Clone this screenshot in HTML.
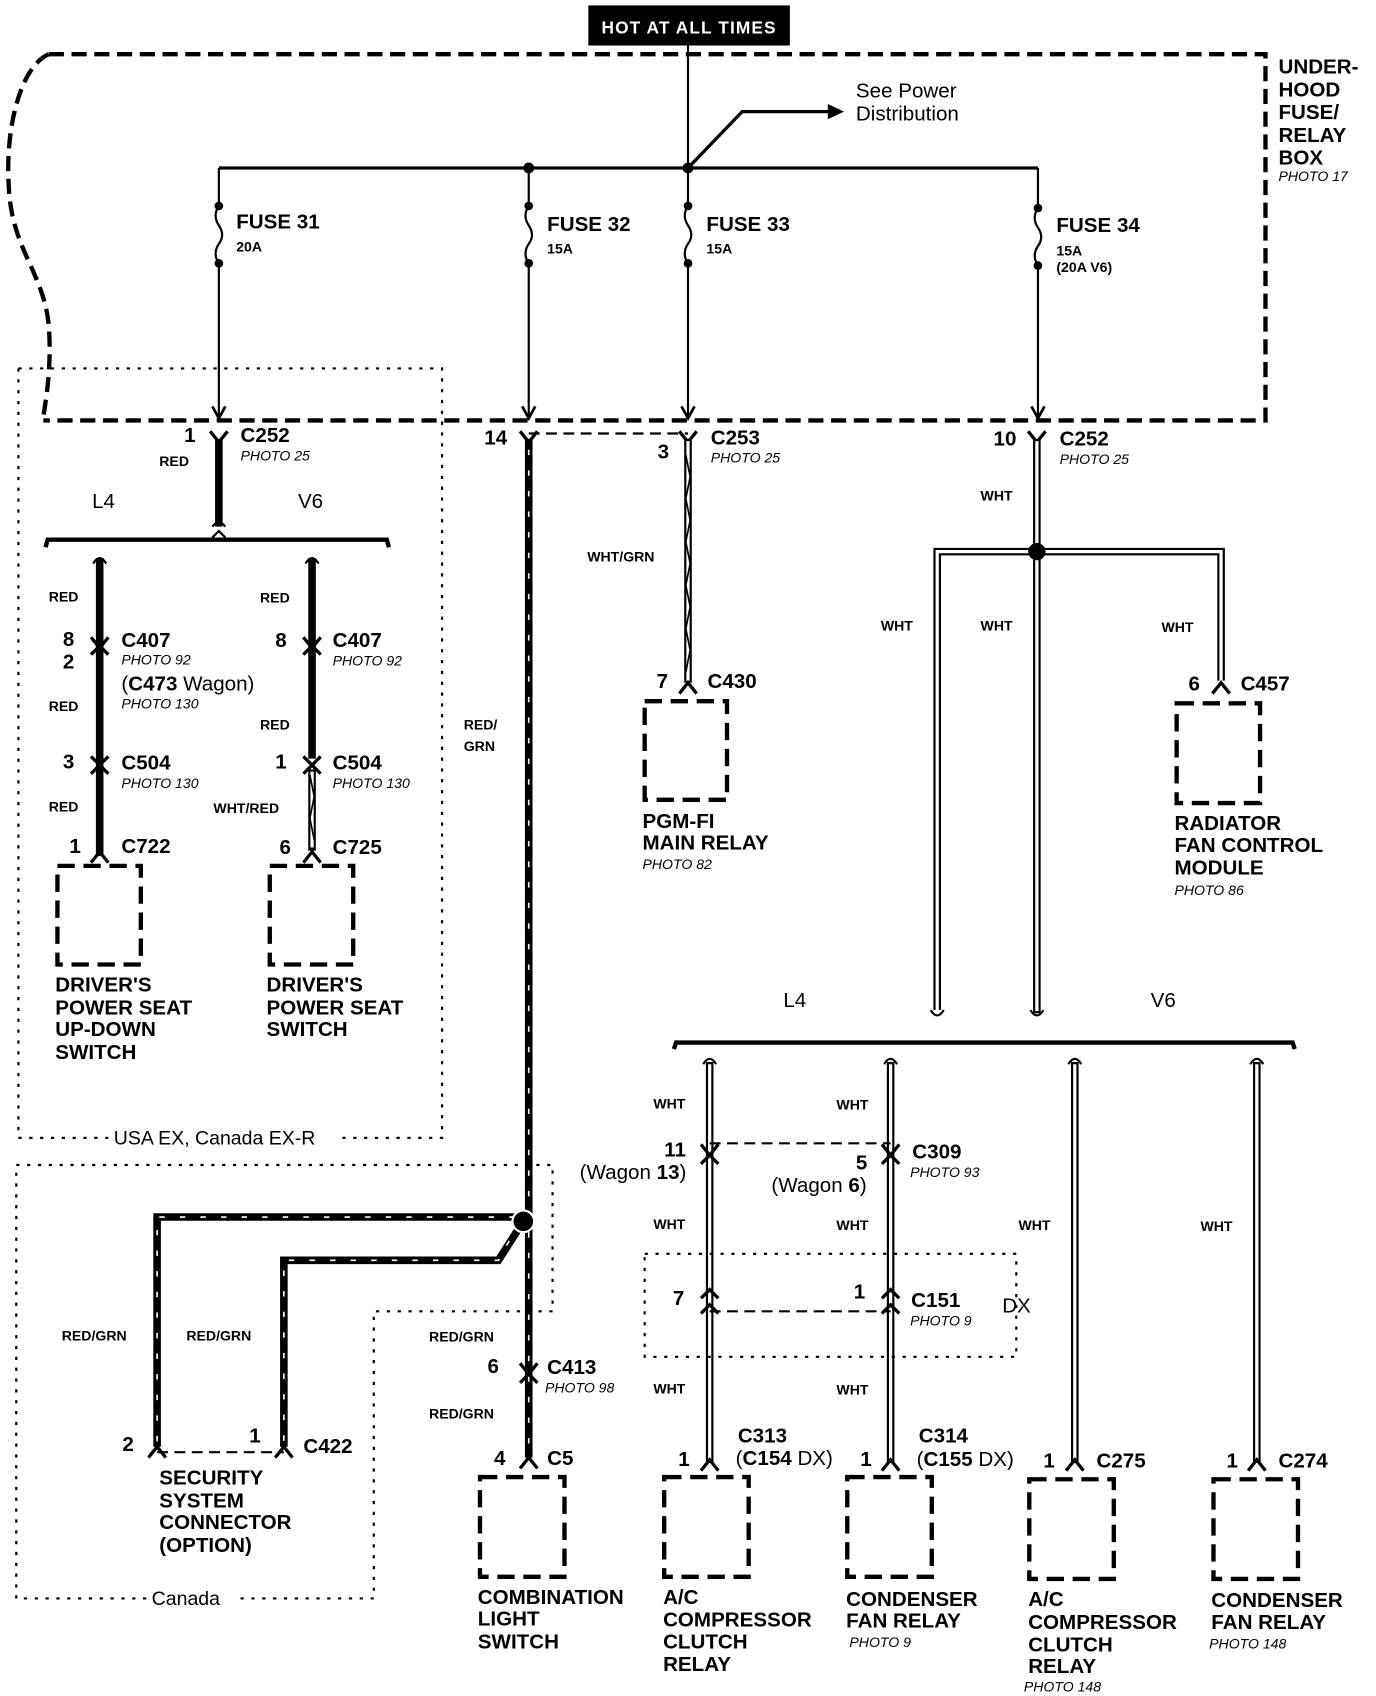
<!DOCTYPE html>
<html><head><meta charset="utf-8"><style>
html,body{margin:0;padding:0;background:#fff;}
svg{display:block}
text{font-family:"Liberation Sans",sans-serif;fill:#000}
.b{font-weight:bold;font-size:19px}
.s{font-weight:bold;font-size:13px}
.p{font-style:italic;font-size:13px}
.r{font-size:19px}
.w{stroke:#000;stroke-width:2;fill:none}
.tk{stroke:#000;stroke-width:7;fill:none}
.hw{stroke:#fff;stroke-width:1.5;stroke-dasharray:5 14;fill:none}
.dw{stroke:#000;stroke-width:7;fill:none}
.dwi{stroke:#fff;stroke-width:3;fill:none}
.fb{stroke:#000;stroke-width:4;stroke-dasharray:14 7;fill:none}
.dot{stroke:#000;stroke-width:2;stroke-dasharray:3 7;fill:none}
.bx{stroke:#000;stroke-width:4;stroke-dasharray:16 8;fill:none}
.dl{stroke:#000;stroke-width:2;stroke-dasharray:10 6;fill:none}
</style></head><body>
<svg width="1376" height="1696" viewBox="0 0 1270 1565" preserveAspectRatio="none" xmlns="http://www.w3.org/2000/svg">
<rect x="0" y="0" width="1270" height="1565" fill="#fff"/>
<!-- header -->
<rect x="543" y="5" width="186" height="37" fill="#000"/>
<text x="636" y="31" text-anchor="middle" style="fill:#fff;font-size:16px;font-weight:bold;letter-spacing:1px">HOT AT ALL TIMES</text>
<!-- fuse box -->
<path class="fb" d="M45,50 L1168,50 L1168,388 L40,388"/>
<path class="fb" d="M45,50 C18,62 5,120 8,170 C10,230 40,250 45,300 C48,340 42,370 40,385"/>
<g class="b"><text x="1180" y="68">UNDER-</text><text x="1180" y="89">HOOD</text><text x="1180" y="110">FUSE/</text><text x="1180" y="131">RELAY</text><text x="1180" y="152">BOX</text></g>
<text class="p" x="1180" y="167">PHOTO 17</text>
<line class="w" x1="635" y1="42" x2="635" y2="155"/>
<path class="w" d="M635,155 L685,103 L765,103" style="stroke-width:3"/>
<path d="M764,96 L779,103 L764,110Z"/>
<text class="r" x="790" y="90">See Power</text><text class="r" x="790" y="111">Distribution</text>
<line x1="202" y1="155" x2="958" y2="155" style="stroke:#000;stroke-width:3"/>
<circle cx="488" cy="155" r="5"/><circle cx="635" cy="155" r="5"/>
<!-- fuses -->
<g>
<line class="w" x1="202" y1="155" x2="202" y2="385"/>
<line class="w" x1="488" y1="155" x2="488" y2="385"/>
<line class="w" x1="635" y1="155" x2="635" y2="385"/>
<line class="w" x1="958" y1="155" x2="958" y2="385"/>
</g>
<g fill="#fff" stroke="none">
<rect x="196" y="192" width="12" height="50"/><rect x="482" y="192" width="12" height="50"/><rect x="629" y="192" width="12" height="50"/><rect x="952" y="194" width="12" height="50"/>
</g>
<g class="w">
<path d="M202,190 q-6,9 0,18 q6,9 0,17 q-6,9 0,18"/>
<path d="M488,190 q-6,9 0,18 q6,9 0,17 q-6,9 0,18"/>
<path d="M635,190 q-6,9 0,18 q6,9 0,17 q-6,9 0,18"/>
<path d="M958,192 q-6,9 0,18 q6,9 0,17 q-6,9 0,18"/>
</g>
<g><circle cx="202" cy="190" r="4"/><circle cx="202" cy="243" r="4"/><circle cx="488" cy="190" r="4"/><circle cx="488" cy="243" r="4"/><circle cx="635" cy="190" r="4"/><circle cx="635" cy="243" r="4"/><circle cx="958" cy="192" r="4"/><circle cx="958" cy="245" r="4"/></g>
<text class="b" x="218" y="211">FUSE 31</text><text class="s" x="218" y="232">20A</text>
<text class="b" x="505" y="213">FUSE 32</text><text class="s" x="505" y="234">15A</text>
<text class="b" x="652" y="213">FUSE 33</text><text class="s" x="652" y="234">15A</text>
<text class="b" x="975" y="214">FUSE 34</text><text class="s" x="975" y="236">15A</text><text class="s" x="975" y="251">(20A V6)</text>
<g class="w" style="stroke-width:2.5">
<path d="M196,375 L202,386 L208,375"/><path d="M482,375 L488,386 L494,375"/><path d="M629,375 L635,386 L641,375"/><path d="M952,375 L958,386 L964,375"/>
</g>
<!-- left dotted box -->
<path class="dot" d="M17,340 L408,340 L408,1050 L310,1050 M100,1050 L17,1050 L17,340"/>
<text class="r" x="105" y="1056" style="font-size:18px">USA EX, Canada EX-R</text>
<!-- connector marks helper: drawn as paths -->
<g class="w" style="stroke-width:3">
<path d="M194,398 L202,408 L210,398"/><path d="M480,398 L488,408 L496,398"/><path d="M627,398 L635,408 L643,398"/><path d="M949,398 L957,408 L965,398"/>
</g>
<line class="dl" x1="488" y1="400" x2="635" y2="400"/>
<!-- fuse31 wire -->
<line class="tk" x1="202" y1="405" x2="202" y2="486"/>
<text class="s" x="147" y="430">RED</text>
<text class="b" x="170" y="408">1</text><text class="b" x="222" y="408">C252</text><text class="p" x="222" y="425">PHOTO 25</text>
<text class="r" x="85" y="469">L4</text><text class="r" x="275" y="469">V6</text>
<path d="M42,505 L44,498 L357,498 L359,505" style="stroke:#000;stroke-width:4;fill:none"/>
<path class="w" d="M196,486 q6,-8 12,0 M196,496 L202,490 L208,496"/>
<line class="tk" x1="92" y1="515" x2="92" y2="790"/>
<line class="tk" x1="288" y1="515" x2="288" y2="700"/>
<path class="w" d="M86,520 q6,-10 12,0 M282,520 q6,-10 12,0"/>
<line class="dw" x1="288" y1="710" x2="288" y2="785"/><line class="dwi" x1="288" y1="712" x2="288" y2="782"/>
<path class="w" d="M286,715 L290,735 L286,755 L290,775" style="stroke-width:1.5"/>
<g class="w" style="stroke-width:3">
<path d="M84,588 L92,598 L100,588 M84,604 L92,596 L100,604"/>
<path d="M280,588 L288,598 L296,588 M280,604 L288,596 L296,604"/>
<path d="M84,698 L92,706 L100,698 M84,714 L92,706 L100,714"/>
<path d="M280,698 L288,706 L296,698 M280,714 L288,706 L296,714"/>
<path d="M84,796 L92,786 L100,796"/><path d="M280,796 L288,786 L296,796"/>
</g>
<text class="s" x="45" y="555">RED</text>
<text class="b" x="58" y="596">8</text><text class="b" x="112" y="597">C407</text><text class="p" x="112" y="613">PHOTO 92</text>
<text class="b" x="58" y="617">2</text><text class="r" x="112" y="637">(<tspan font-weight="bold">C473</tspan> Wagon)</text><text class="p" x="112" y="654">PHOTO 130</text>
<text class="s" x="45" y="656">RED</text>
<text class="b" x="58" y="709">3</text><text class="b" x="112" y="710">C504</text><text class="p" x="112" y="727">PHOTO 130</text>
<text class="s" x="45" y="749">RED</text>
<text class="b" x="64" y="787">1</text><text class="b" x="112" y="787">C722</text>
<text class="s" x="240" y="556">RED</text>
<text class="b" x="254" y="597">8</text><text class="b" x="307" y="597">C407</text><text class="p" x="307" y="614">PHOTO 92</text>
<text class="s" x="240" y="673">RED</text>
<text class="b" x="254" y="709">1</text><text class="b" x="307" y="710">C504</text><text class="p" x="307" y="727">PHOTO 130</text>
<text class="s" x="197" y="750">WHT/RED</text>
<text class="b" x="258" y="788">6</text><text class="b" x="307" y="788">C725</text>
<rect class="bx" x="53" y="799" width="77" height="91"/><rect class="bx" x="249" y="799" width="77" height="91"/>
<g class="b"><text x="51" y="915">DRIVER'S</text><text x="51" y="936">POWER SEAT</text><text x="51" y="956">UP-DOWN</text><text x="51" y="977">SWITCH</text>
<text x="246" y="915">DRIVER'S</text><text x="246" y="936">POWER SEAT</text><text x="246" y="956">SWITCH</text></g>
<!-- fuse 32 RED/GRN -->
<line class="tk" x1="488" y1="405" x2="488" y2="1345"/><line class="hw" x1="488" y1="415" x2="488" y2="1345"/>
<text class="b" x="447" y="410">14</text>
<text class="s" x="428" y="673">RED/</text><text class="s" x="428" y="693">GRN</text>
<path class="tk" d="M483,1123 L145,1123 L145,1335"/><path class="hw" d="M475,1123 L145,1123 L145,1335"/>
<path class="tk" d="M483,1127 L460,1163 L262,1163 L262,1335"/><path class="hw" d="M470,1145 L460,1163 L262,1163 L262,1335"/>
<circle cx="483" cy="1127" r="10" fill="#000" stroke="#fff" stroke-width="2"/>
<path class="dot" d="M15,1075 L510,1075 L510,1210 L345,1210 L345,1475 L215,1475 M135,1475 L15,1475 L15,1075"/>
<text class="r" x="140" y="1481" style="font-size:18px">Canada</text>
<text class="s" x="57" y="1237">RED/GRN</text><text class="s" x="172" y="1237">RED/GRN</text>
<text class="s" x="396" y="1238">RED/GRN</text><text class="s" x="396" y="1309">RED/GRN</text>
<line class="dl" x1="145" y1="1340" x2="262" y2="1340"/>
<g class="w" style="stroke-width:3"><path d="M137,1345 L145,1335 L153,1345"/><path d="M254,1345 L262,1335 L270,1345"/>
<path d="M480,1258 L488,1268 L496,1258 M480,1276 L488,1268 L496,1276"/><path d="M480,1355 L488,1345 L496,1355"/></g>
<text class="b" x="113" y="1339">2</text><text class="b" x="230" y="1331">1</text><text class="b" x="280" y="1341">C422</text>
<g class="b"><text x="147" y="1370">SECURITY</text><text x="147" y="1391">SYSTEM</text><text x="147" y="1411">CONNECTOR</text><text x="147" y="1432">(OPTION)</text></g>
<text class="b" x="450" y="1267">6</text><text class="b" x="505" y="1268">C413</text><text class="p" x="503" y="1285">PHOTO 98</text>
<text class="b" x="456" y="1352">4</text><text class="b" x="505" y="1352">C5</text>
<rect class="bx" x="443" y="1363" width="78" height="92"/>
<g class="b"><text x="441" y="1480">COMBINATION</text><text x="441" y="1500">LIGHT</text><text x="441" y="1521">SWITCH</text></g>
<!-- fuse 33 -->
<line class="dw" x1="635" y1="405" x2="635" y2="630"/><line class="dwi" x1="635" y1="407" x2="635" y2="628"/>
<path class="w" d="M633,420 L637,440 L633,460 L637,480 L633,500 L637,520 L633,540 L637,560 L633,580 L637,600 L633,620" style="stroke-width:1.5"/>
<text class="b" x="607" y="423">3</text><text class="b" x="656" y="410">C253</text><text class="p" x="656" y="427">PHOTO 25</text>
<text class="s" x="542" y="518">WHT/GRN</text>
<path class="w" style="stroke-width:3" d="M627,640 L635,630 L643,640"/>
<text class="b" x="606" y="635">7</text><text class="b" x="653" y="635">C430</text>
<rect class="bx" x="595" y="647" width="76" height="91"/>
<g class="b"><text x="593" y="764">PGM-FI</text><text x="593" y="784">MAIN RELAY</text></g><text class="p" x="593" y="802">PHOTO 82</text>
<!-- fuse 34 -->
<line class="dw" x1="957" y1="405" x2="957" y2="935"/><line class="dwi" x1="957" y1="407" x2="957" y2="933"/>
<path class="dw" d="M950,509 L865,509 L865,932 M964,509 L1127,509 L1127,628"/>
<path class="dwi" d="M950,509 L865,509 L865,932 M964,509 L1127,509 L1127,628"/>
<circle cx="957" cy="509" r="8"/>
<text class="b" x="917" y="411">10</text><text class="b" x="978" y="411">C252</text><text class="p" x="978" y="428">PHOTO 25</text>
<text class="s" x="905" y="462">WHT</text><text class="s" x="813" y="582">WHT</text><text class="s" x="905" y="582">WHT</text><text class="s" x="1072" y="583">WHT</text>
<path class="w" style="stroke-width:3" d="M1119,640 L1127,630 L1135,640"/>
<text class="b" x="1097" y="637">6</text><text class="b" x="1145" y="637">C457</text>
<rect class="bx" x="1086" y="649" width="77" height="92"/>
<g class="b"><text x="1084" y="766">RADIATOR</text><text x="1084" y="786">FAN CONTROL</text><text x="1084" y="807">MODULE</text></g><text class="p" x="1084" y="826">PHOTO 86</text>
<path class="w" d="M859,932 q6,10 12,0 M951,932 q6,10 12,0"/>
<text class="r" x="723" y="929">L4</text><text class="r" x="1062" y="929">V6</text>
<path d="M622,968 L624,962 L1193,962 L1195,968" style="stroke:#000;stroke-width:4;fill:none"/>
<g>
<line class="dw" x1="655" y1="980" x2="655" y2="1350"/><line class="dwi" x1="655" y1="982" x2="655" y2="1348"/>
<line class="dw" x1="822" y1="980" x2="822" y2="1350"/><line class="dwi" x1="822" y1="982" x2="822" y2="1348"/>
<line class="dw" x1="992" y1="980" x2="992" y2="1350"/><line class="dwi" x1="992" y1="982" x2="992" y2="1348"/>
<line class="dw" x1="1160" y1="980" x2="1160" y2="1350"/><line class="dwi" x1="1160" y1="982" x2="1160" y2="1348"/>
</g>
<path class="w" d="M649,982 q6,-10 12,0 M816,982 q6,-10 12,0 M986,982 q6,-10 12,0 M1154,982 q6,-10 12,0"/>
<text class="s" x="603" y="1023">WHT</text><text class="s" x="772" y="1024">WHT</text>
<line class="dl" x1="655" y1="1055" x2="822" y2="1055"/>
<g class="w" style="stroke-width:3">
<path d="M647,1056 L655,1066 L663,1056 M647,1074 L655,1066 L663,1074"/>
<path d="M814,1056 L822,1066 L830,1056 M814,1074 L822,1066 L830,1074"/>
<path d="M647,1198 L655,1190 L663,1198 M647,1212 L655,1204 L663,1212"/>
<path d="M814,1198 L822,1190 L830,1198 M814,1212 L822,1204 L830,1212"/>
<path d="M647,1357 L655,1347 L663,1357"/><path d="M814,1357 L822,1347 L830,1357"/>
<path d="M984,1357 L992,1347 L1000,1357"/><path d="M1152,1357 L1160,1347 L1168,1357"/>
</g>
<text class="b" x="613" y="1067">11</text><text class="r" x="535" y="1088">(Wagon <tspan font-weight="bold">13</tspan>)</text>
<text class="b" x="790" y="1079">5</text><text class="r" x="712" y="1100">(Wagon <tspan font-weight="bold">6</tspan>)</text>
<text class="b" x="842" y="1069">C309</text><text class="p" x="840" y="1086">PHOTO 93</text>
<text class="s" x="603" y="1134">WHT</text><text class="s" x="772" y="1135">WHT</text><text class="s" x="940" y="1135">WHT</text><text class="s" x="1108" y="1136">WHT</text>
<path class="dot" d="M595,1157 L938,1157 L938,1252 L595,1252 Z"/>
<text class="r" x="925" y="1211">DX</text>
<line class="dl" x1="655" y1="1210" x2="822" y2="1210"/>
<text class="b" x="621" y="1204">7</text><text class="b" x="788" y="1198">1</text><text class="b" x="841" y="1206">C151</text><text class="p" x="840" y="1223">PHOTO 9</text>
<text class="s" x="603" y="1286">WHT</text><text class="s" x="772" y="1287">WHT</text>
<text class="b" x="681" y="1331">C313</text><text class="r" x="679" y="1352">(<tspan font-weight="bold">C154</tspan> DX)</text><text class="b" x="626" y="1353">1</text>
<text class="b" x="848" y="1331">C314</text><text class="r" x="846" y="1353">(<tspan font-weight="bold">C155</tspan> DX)</text><text class="b" x="794" y="1353">1</text>
<text class="b" x="963" y="1354">1</text><text class="b" x="1012" y="1354">C275</text>
<text class="b" x="1132" y="1354">1</text><text class="b" x="1180" y="1354">C274</text>
<rect class="bx" x="613" y="1363" width="78" height="92"/>
<rect class="bx" x="782" y="1363" width="78" height="92"/>
<rect class="bx" x="950" y="1365" width="78" height="92"/>
<rect class="bx" x="1120" y="1365" width="78" height="92"/>
<g class="b">
<text x="612" y="1480">A/C</text><text x="612" y="1501">COMPRESSOR</text><text x="612" y="1521">CLUTCH</text><text x="612" y="1542">RELAY</text>
<text x="781" y="1482">CONDENSER</text><text x="781" y="1502">FAN RELAY</text>
<text x="949" y="1482">A/C</text><text x="949" y="1503">COMPRESSOR</text><text x="949" y="1524">CLUTCH</text><text x="949" y="1544">RELAY</text>
<text x="1118" y="1483">CONDENSER</text><text x="1118" y="1503">FAN RELAY</text>
</g>
<text class="p" x="784" y="1520">PHOTO 9</text><text class="p" x="945" y="1561">PHOTO 148</text><text class="p" x="1116" y="1521">PHOTO 148</text>
</svg>
</body></html>
